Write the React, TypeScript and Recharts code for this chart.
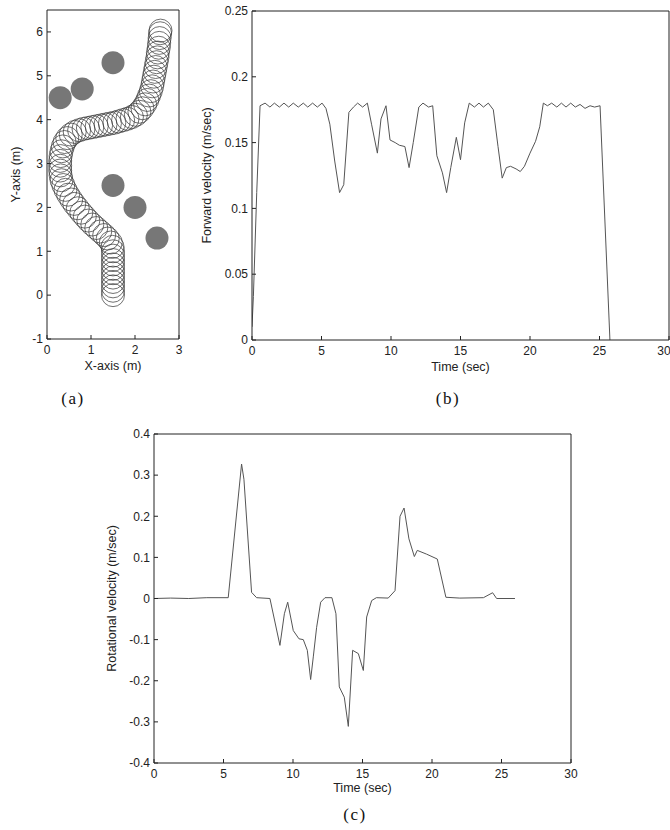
import React from "react";
import { LineChart, Line, ScatterChart, Scatter, XAxis, YAxis } from "recharts";

// (a) robot path: circle centres in metres
const pathX = [1.5, 1.5, 1.5, 1.5, 1.5, 1.5, 1.5, 1.5, 1.5, 1.5, 1.5,
    1.49, 1.45, 1.38, 1.30, 1.21, 1.12, 1.03, 0.94, 0.86, 0.78, 0.70, 0.62, 0.55, 0.48, 0.42,
    0.37, 0.33, 0.31, 0.30, 0.30, 0.30, 0.31, 0.33, 0.36, 0.40, 0.46, 0.54, 0.63, 0.73, 0.83,
    0.93, 1.03, 1.13, 1.23, 1.33, 1.43, 1.53, 1.63, 1.73, 1.83, 1.93, 2.02, 2.10, 2.17, 2.23,
    2.28, 2.32, 2.36, 2.39, 2.41, 2.43, 2.45, 2.47, 2.49, 2.51, 2.52, 2.54, 2.55, 2.56, 2.57, 2.58];
const pathY = [0.0, 0.1, 0.2, 0.3, 0.4, 0.5, 0.6, 0.7, 0.8, 0.9, 1.0,
    1.1, 1.2, 1.29, 1.37, 1.45, 1.53, 1.61, 1.70, 1.79, 1.88, 1.98, 2.08, 2.18, 2.29, 2.40,
    2.51, 2.62, 2.73, 2.84, 2.95, 3.06, 3.17, 3.28, 3.39, 3.49, 3.58, 3.66, 3.72, 3.76, 3.79,
    3.81, 3.83, 3.85, 3.87, 3.89, 3.91, 3.93, 3.96, 3.99, 4.02, 4.06, 4.11, 4.18, 4.26, 4.35,
    4.45, 4.55, 4.65, 4.76, 4.87, 4.98, 5.09, 5.20, 5.31, 5.42, 5.53, 5.64, 5.75, 5.86, 5.97, 6.03];

// obstacles
const obsX = [0.3, 0.8, 1.5, 1.5, 2.0, 2.5];
const obsY = [4.5, 4.7, 5.3, 2.5, 2.0, 1.3];

// (b) forward velocity
const fwdTime = [0, 0.1, 0.34, 0.58, 0.94, 1.29, 1.61, 1.97, 2.3, 2.64, 2.97, 3.33, 3.69, 4.01,
    4.36, 4.7, 5.04, 5.32, 5.6, 5.95, 6.3, 6.6, 6.97, 7.3, 7.6, 7.96, 8.3, 8.6, 9.02, 9.28, 9.64,
    9.93, 10.3, 10.6, 11.0, 11.3, 11.6, 12.0, 12.3, 12.7, 13.0, 13.3, 13.7, 14.0, 14.3, 14.7,
    15.0, 15.3, 15.63, 16.0, 16.33, 16.65, 17.0, 17.36, 17.7, 18.0, 18.3, 18.6, 19.0, 19.3, 19.6,
    20.0, 20.4, 20.7, 20.96, 21.25, 21.56, 21.93, 22.26, 22.59, 22.93, 23.26, 23.6, 23.96, 24.32,
    24.65, 25.04, 25.75];
const fwdVel = [0.010, 0.033, 0.112, 0.178, 0.180, 0.177, 0.180, 0.177, 0.180, 0.177, 0.180,
    0.177, 0.180, 0.177, 0.180, 0.177, 0.180, 0.176, 0.164, 0.136, 0.112, 0.118, 0.173, 0.177,
    0.180, 0.177, 0.180, 0.164, 0.142, 0.168, 0.178, 0.152, 0.150, 0.148, 0.147, 0.131, 0.150,
    0.177, 0.180, 0.177, 0.178, 0.140, 0.127, 0.112, 0.131, 0.154, 0.137, 0.165, 0.180, 0.177,
    0.180, 0.177, 0.180, 0.175, 0.147, 0.123, 0.131, 0.132, 0.130, 0.128, 0.132, 0.142, 0.151,
    0.162, 0.180, 0.178, 0.180, 0.177, 0.180, 0.177, 0.180, 0.177, 0.179, 0.176, 0.178, 0.177,
    0.178, 0.0];

// (c) rotational velocity
const rotTime = [0, 1.2, 2.5, 3.8, 5.34, 6.3, 6.47, 7.02, 7.38, 8.34, 9.06, 9.38, 9.62, 10.02,
    10.43, 10.74, 11.03, 11.27, 11.46, 11.7, 11.99, 12.3, 12.8, 13.09, 13.33, 13.69, 13.98, 14.29,
    14.7, 15.06, 15.3, 15.66, 16.0, 16.85, 17.34, 17.7, 17.99, 18.34, 18.73, 18.94, 19.6, 20.38,
    21.0, 22.0, 23.7, 24.36, 24.65, 25.97];
const rotVel = [0.0, 0.001, 0.0, 0.002, 0.002, 0.327, 0.29, 0.015, 0.002, 0.0, -0.114, -0.037,
    -0.009, -0.078, -0.098, -0.1, -0.126, -0.197, -0.142, -0.07, -0.009, 0.002, 0.002, -0.037,
    -0.215, -0.24, -0.311, -0.126, -0.134, -0.175, -0.045, -0.005, 0.002, 0.001, 0.019, 0.2, 0.22,
    0.145, 0.102, 0.117, 0.108, 0.096, 0.003, 0.001, 0.002, 0.014, 0.0, 0.0];

const xTicksA = [0, 1, 2, 3];
const yTicksA = [-1, 0, 1, 2, 3, 4, 5, 6];
const timeTicks = [0, 5, 10, 15, 20, 25, 30];
const fwdTicks = [0, 0.05, 0.1, 0.15, 0.2, 0.25];
const rotTicks = [-0.4, -0.3, -0.2, -0.1, 0, 0.1, 0.2, 0.3, 0.4];

const FONT = "'Liberation Sans', Arial, sans-serif";
const INK = "#222";
const tickFont = { fontSize: 12, fill: INK, fontFamily: FONT };
const labelFont = { fontSize: 12.5, fill: INK, fontFamily: FONT };

const pathData = pathX.map((x, i) => ({ x, y: pathY[i] }));
const obsData = obsX.map((x, i) => ({ x, y: obsY[i] }));
const fwdData = fwdTime.map((t, i) => ({ t, v: fwdVel[i] }));
const rotData = rotTime.map((t, i) => ({ t, v: rotVel[i] }));

const PathCircle = (p: any) => (
    <circle cx={p.cx} cy={p.cy} r={11.5} fill="none" stroke="#333" strokeWidth={0.7} />
);
const Obstacle = (p: any) => (
    <circle cx={p.cx} cy={p.cy} r={11.5} fill="#777" stroke="none" />
);

// MATLAB style box: inward ticks on top and right too
function boxAxes(xDomain: number[], xTicks: number[], yDomain: number[], yTicks: number[]) {
    return [
        <XAxis key="xt" xAxisId="top" orientation="top" type="number" domain={xDomain} ticks={xTicks}
            height={1} tick={false} tickSize={-4} stroke={INK} allowDataOverflow />,
        <YAxis key="yr" yAxisId="right" orientation="right" type="number" domain={yDomain} ticks={yTicks}
            width={1} tick={false} tickSize={-4} stroke={INK} allowDataOverflow />,
    ];
}

const panelLabel = (text: string, left: number, top: number) => (
    <div style={{
        position: 'absolute', left, top, transform: 'translateX(-50%)',
        fontFamily: "'Liberation Serif', 'Times New Roman', serif", fontSize: 17, letterSpacing: 1.5, color: '#111'
    }}>{text}</div>
);

function App() {
    return (
        <div style={{ position: 'absolute', left: 0, top: 0, width: 670, height: 830, background: '#fff' }}>
            <div style={{ position: 'absolute', left: 0, top: 0 }}>
                <ScatterChart width={190} height={390} margin={{ top: 9, right: 10, bottom: 0, left: 0 }}>
                    <XAxis dataKey="x" type="number" domain={[0, 3]} ticks={xTicksA} height={51}
                        tickSize={-4} tickMargin={10} tick={tickFont} stroke={INK} allowDataOverflow
                        label={{ value: 'X-axis (m)', position: 'insideTop', offset: 22, style: labelFont }} />
                    <YAxis dataKey="y" type="number" domain={[-1, 6.5]} ticks={yTicksA} width={47}
                        tickSize={-4} tickMargin={8} tick={tickFont} stroke={INK} allowDataOverflow
                        label={{ value: 'Y-axis (m)', angle: -90, position: 'insideLeft', offset: 16, style: { ...labelFont, textAnchor: 'middle' } }} />
                    {boxAxes([0, 3], xTicksA, [-1, 6.5], yTicksA)}
                    <Scatter data={obsData} shape={Obstacle} isAnimationActive={false} />
                    <Scatter data={pathData} shape={PathCircle} isAnimationActive={false} />
                </ScatterChart>
            </div>

            <div style={{ position: 'absolute', left: 190, top: 0 }}>
                <LineChart width={480} height={390} data={fwdData} margin={{ top: 10, right: 0, bottom: 0, left: 0 }}>
                    <XAxis dataKey="t" type="number" domain={[0, 30]} ticks={timeTicks} height={50}
                        tickSize={-4} tickMargin={10} tick={tickFont} stroke={INK} allowDataOverflow
                        label={{ value: 'Time (sec)', position: 'insideTop', offset: 22, style: labelFont }} />
                    <YAxis dataKey="v" type="number" domain={[0, 0.25]} ticks={fwdTicks} width={62}
                        tickSize={-4} tickMargin={8} tick={tickFont} stroke={INK} allowDataOverflow
                        label={{ value: 'Forward velocity (m/sec)', angle: -90, position: 'insideLeft', offset: 17, style: { ...labelFont, textAnchor: 'middle' } }} />
                    {boxAxes([0, 30], timeTicks, [0, 0.25], fwdTicks)}
                    <Line dataKey="v" type="linear" stroke="#555" strokeWidth={1} dot={false} isAnimationActive={false} />
                </LineChart>
            </div>

            <div style={{ position: 'absolute', left: 90, top: 423 }}>
                <LineChart width={500} height={390} data={rotData} margin={{ top: 10, right: 18, bottom: 0, left: 0 }}>
                    <XAxis dataKey="t" type="number" domain={[0, 30]} ticks={timeTicks} height={50}
                        tickSize={-4} tickMargin={10} tick={tickFont} stroke={INK} allowDataOverflow
                        label={{ value: 'Time (sec)', position: 'insideTop', offset: 20, style: labelFont }} />
                    <YAxis dataKey="v" type="number" domain={[-0.4, 0.4]} ticks={rotTicks} width={64}
                        tickSize={-4} tickMargin={8} tick={tickFont} stroke={INK} allowDataOverflow
                        label={{ value: 'Rotational velocity (m/sec)', angle: -90, position: 'insideLeft', offset: 22, style: { ...labelFont, textAnchor: 'middle' } }} />
                    {boxAxes([0, 30], timeTicks, [-0.4, 0.4], rotTicks)}
                    <Line dataKey="v" type="linear" stroke="#555" strokeWidth={1} dot={false} isAnimationActive={false} />
                </LineChart>
            </div>

            {panelLabel('(a)', 73, 389)}
            {panelLabel('(b)', 448, 389)}
            {panelLabel('(c)', 355, 805)}
        </div>
    );
}

export default App;
